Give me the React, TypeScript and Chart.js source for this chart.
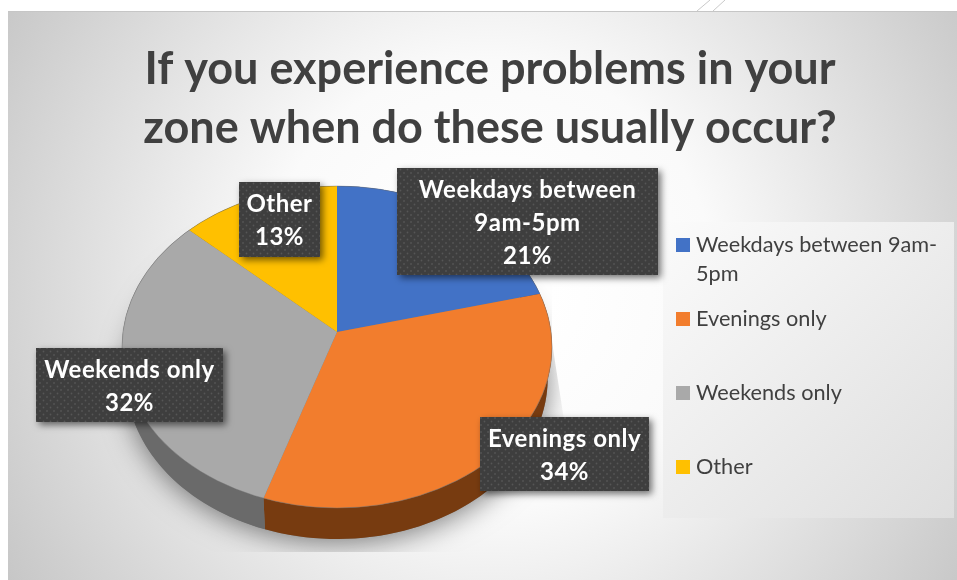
import React, { useEffect, useRef } from "react";
import { Chart, registerables } from "chart.js";

Chart.register(...registerables);

// Survey answers, in percent
const categories = ["Weekdays between 9am-5pm", "Evenings only", "Weekends only", "Other"];
const shares = [21, 34, 32, 13];
const sliceColors = ["#4272c6", "#f27d2d", "#a9a9a9", "#ffc000"];
const sideColors = ["#27457a", "#773b10", "#6a6a6a", "#9c7500"];
const titleLines = ["If you experience problems in your", "zone when do these usually occur?"];
const legendLines = [["Weekdays between 9am-", "5pm"], ["Evenings only"], ["Weekends only"], ["Other"]];
const calloutLines = [["Weekdays between", "9am-5pm"], ["Evenings only"], ["Weekends only"], ["Other"]];

// Page furniture and the tilted-disc geometry
const SLIDE = { x: 8, y: 11 };
const DISC = { cx: 337, cy: 347, rx: 215, ry: 161, apexX: 337, apexY: 332, tilt: 0.735, depth: 31, baseShrink: 0.98 };
const CALLOUTS = [
  { x: 397, y: 168, w: 261, h: 107 },
  { x: 480, y: 417, w: 169, h: 74 },
  { x: 36, y: 348, w: 187, h: 74 },
  { x: 239, y: 182, w: 81, h: 75 },
];
const LEGEND = { x: 663, y: 222, w: 291, h: 296, swatchX: 676, swatch: 14, textX: 696, rows: [252, 326, 400, 474], pitch: 29 };
const SANS = "Lato, 'Open Sans', sans-serif";

function rimPoint(angle: number) {
  const { cx, cy, rx, ry, apexX, apexY, tilt } = DISC;
  const dx = Math.cos(angle);
  const dy = Math.sin(angle) * tilt;
  const oy = apexY - cy;
  const a = (dx * dx) / (rx * rx) + (dy * dy) / (ry * ry);
  const b = (2 * oy * dy) / (ry * ry);
  const c = (oy * oy) / (ry * ry) - 1;
  const t = (-b + Math.sqrt(b * b - 4 * a * c)) / (2 * a);
  return { x: apexX + t * dx, y: apexY + t * dy };
}

function discPath(ctx: CanvasRenderingContext2D) {
  ctx.beginPath();
  ctx.ellipse(DISC.cx, DISC.cy, DISC.rx, DISC.ry, 0, 0, Math.PI * 2);
}

function basePath(ctx: CanvasRenderingContext2D) {
  ctx.beginPath();
  ctx.ellipse(DISC.cx, DISC.cy + DISC.depth, DISC.rx * DISC.baseShrink, DISC.ry, 0, 0, Math.PI * 2);
}

function dottedFill(ctx: CanvasRenderingContext2D) {
  const tile = document.createElement("canvas");
  tile.width = 7;
  tile.height = 7;
  const t = tile.getContext("2d")!;
  t.fillStyle = "#3e3e3e";
  t.fillRect(0, 0, 7, 7);
  t.fillStyle = "#565656";
  t.beginPath();
  t.arc(1.5, 1.5, 0.9, 0, Math.PI * 2);
  t.arc(5, 5, 0.9, 0, Math.PI * 2);
  t.fill();
  return ctx.createPattern(tile, "repeat")!;
}

const slideBackdrop = {
  id: "slideBackdrop",
  beforeDraw(chart: any) {
    const { ctx, width, height } = chart;
    ctx.save();
    ctx.fillStyle = "#ffffff";
    ctx.fillRect(0, 0, width, height);
    // folded-corner strokes above the slide
    ctx.strokeStyle = "#c9c9c9";
    ctx.lineWidth = 1;
    ctx.beginPath();
    ctx.moveTo(697, 11);
    ctx.lineTo(710, 0);
    ctx.moveTo(713, 11);
    ctx.lineTo(725, 0);
    ctx.stroke();
    const g = ctx.createRadialGradient(490, 285, 60, 490, 285, 610);
    g.addColorStop(0, "#ffffff");
    g.addColorStop(0.3, "#fafafa");
    g.addColorStop(1, "#c0c0c0");
    ctx.fillStyle = g;
    ctx.fillRect(SLIDE.x, SLIDE.y, width - SLIDE.x, height - SLIDE.y);
    ctx.fillStyle = "#c6c6c6";
    ctx.fillRect(SLIDE.x, SLIDE.y, width - SLIDE.x, 1);
    // legend panel
    const lg = ctx.createLinearGradient(LEGEND.x, LEGEND.y, LEGEND.x + LEGEND.w, LEGEND.y + LEGEND.h);
    lg.addColorStop(0, "#fbfbfb");
    lg.addColorStop(1, "#dedede");
    ctx.fillStyle = lg;
    ctx.fillRect(LEGEND.x, LEGEND.y, LEGEND.w, LEGEND.h);
    ctx.restore();
  },
};

const tiltedDisc = {
  id: "tiltedDisc",
  beforeDatasetDraw(chart: any) {
    const { ctx } = chart;
    const arcs = chart.getDatasetMeta(0).data;
    const first = arcs[0];

    // soft ground shadow, cut off along the chart's picture frame
    ctx.save();
    ctx.beginPath();
    ctx.moveTo(0, 0);
    ctx.lineTo(552, 0);
    ctx.lineTo(552, 342);
    ctx.lineTo(564, 420);
    ctx.lineTo(564, 552);
    ctx.lineTo(0, 552);
    ctx.closePath();
    ctx.clip();
    ctx.shadowColor = "rgba(0,0,0,0.5)";
    ctx.shadowBlur = 28;
    ctx.shadowOffsetY = 4;
    ctx.fillStyle = "#777";
    basePath(ctx);
    ctx.fill();
    ctx.restore();

    // rim wall, one band per slice between the top rim and the base
    arcs.forEach((arc: any, i: number) => {
      const steps = 60;
      const band = Array.from({ length: steps + 1 }, (_, k) =>
        rimPoint(arc.startAngle + ((arc.endAngle - arc.startAngle) * k) / steps),
      );
      ctx.beginPath();
      band.forEach((p, k) => (k === 0 ? ctx.moveTo(p.x, p.y) : ctx.lineTo(p.x, p.y)));
      [...band].reverse().forEach((p) => {
        ctx.lineTo(DISC.cx + (p.x - DISC.cx) * DISC.baseShrink, p.y + DISC.depth);
      });
      ctx.closePath();
      ctx.fillStyle = sideColors[i];
      ctx.fill();
    });

    // top face: library arcs enlarged about the apex and trimmed to the rim
    ctx.save();
    discPath(ctx);
    ctx.clip();
    const k = 320 / first.outerRadius;
    ctx.translate(DISC.apexX, DISC.apexY);
    ctx.scale(k, k * DISC.tilt);
    ctx.translate(-first.x, -first.y);
  },
  afterDatasetDraw(chart: any) {
    const { ctx } = chart;
    ctx.restore();
    ctx.save();
    ctx.strokeStyle = "rgba(110,110,110,0.4)";
    ctx.lineWidth = 1;
    discPath(ctx);
    ctx.stroke();
    ctx.restore();
  },
};

const overlays = {
  id: "overlays",
  afterDraw(chart: any) {
    const { ctx } = chart;
    const values: number[] = chart.data.datasets[0].data;
    const fill = dottedFill(ctx);
    ctx.save();
    ctx.textAlign = "center";
    ctx.textBaseline = "alphabetic";
    CALLOUTS.forEach((box, i) => {
      ctx.save();
      ctx.shadowColor = "rgba(0,0,0,0.55)";
      ctx.shadowBlur = 7;
      ctx.shadowOffsetX = 3;
      ctx.shadowOffsetY = 3;
      ctx.fillStyle = fill;
      ctx.fillRect(box.x, box.y, box.w, box.h);
      ctx.restore();
      const lines = [...calloutLines[i], `${values[i]}%`];
      const pitch = 33;
      const first = box.y + box.h / 2 - ((lines.length - 1) * pitch) / 2 + 9;
      ctx.fillStyle = "#ffffff";
      ctx.font = `bold 24px ${SANS}`;
      (ctx as any).letterSpacing = "0.5px";
      lines.forEach((line, n) => ctx.fillText(line, box.x + box.w / 2, first + n * pitch));
    });
    ctx.restore();

    // legend keys and entries
    ctx.save();
    ctx.textAlign = "left";
    ctx.font = `21.7px ${SANS}`;
    legendLines.forEach((lines, i) => {
      const base = LEGEND.rows[i];
      ctx.fillStyle = sliceColors[i];
      ctx.fillRect(LEGEND.swatchX, base - LEGEND.swatch, LEGEND.swatch, LEGEND.swatch);
      ctx.fillStyle = "#404040";
      lines.forEach((line, n) => ctx.fillText(line, LEGEND.textX, base + n * LEGEND.pitch));
    });
    ctx.restore();
  },
};

export default function App() {
  const canvasRef = useRef<HTMLCanvasElement>(null);

  useEffect(() => {
    document.body.style.margin = "0";
    const chart = new Chart(canvasRef.current!, {
      type: "pie",
      data: {
        labels: categories,
        datasets: [{ data: shares, backgroundColor: sliceColors, borderWidth: 0, clip: false }],
      },
      options: {
        animation: false,
        responsive: false,
        events: [],
        layout: { padding: { left: 23 } },
        plugins: {
          legend: { display: false },
          tooltip: { enabled: false },
          title: {
            display: true,
            text: titleLines,
            color: "#404040",
            font: { family: SANS, size: 45, weight: "bold", lineHeight: 1.31 },
            padding: { top: 40, bottom: 10 },
          },
        },
      },
      plugins: [slideBackdrop, tiltedDisc, overlays],
    } as any);
    return () => chart.destroy();
  }, []);

  return <canvas ref={canvasRef} width={957} height={580} style={{ display: "block" }} />;
}
